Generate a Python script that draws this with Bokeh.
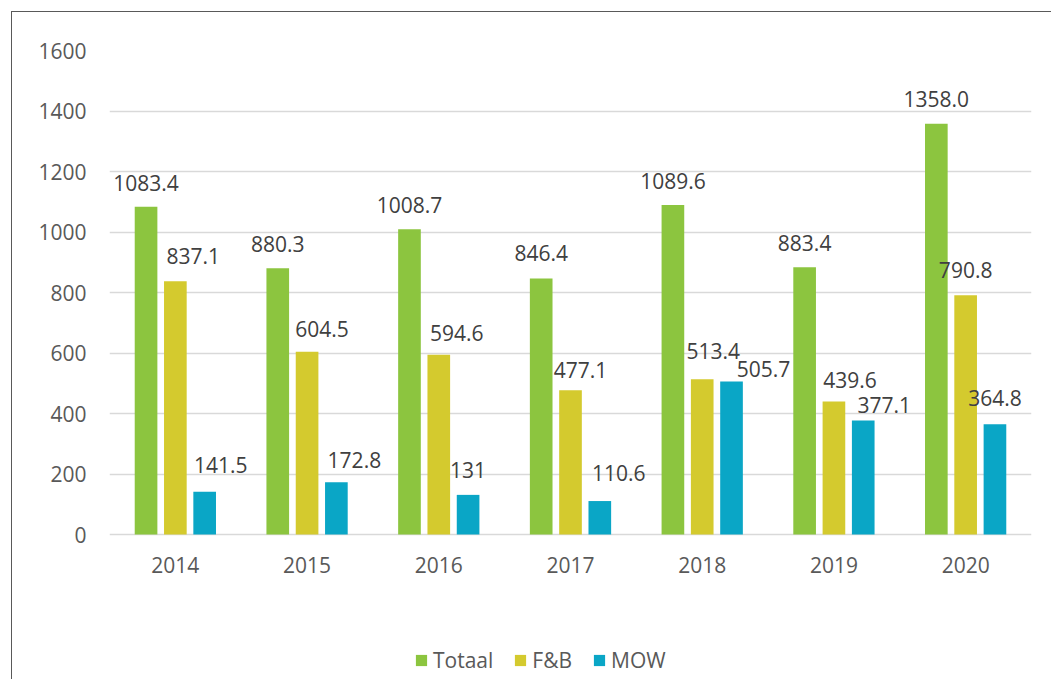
from bokeh.plotting import figure
from bokeh.models import (ColumnDataSource, FactorRange, Range1d, Legend, LegendItem)
from bokeh.transform import dodge
from bokeh.core.properties import value
from bokeh.embed import file_html
from bokeh.resources import INLINE

# ---- data ----
years = ["2014", "2015", "2016", "2017", "2018", "2019", "2020"]
totaal = [1083.4, 880.3, 1008.7, 846.4, 1089.6, 883.4, 1358.0]
fb = [837.1, 604.5, 594.6, 477.1, 513.4, 439.6, 790.8]
mow = [141.5, 172.8, 131, 110.6, 505.7, 377.1, 364.8]
totaal_labels = ["1083.4", "880.3", "1008.7", "846.4", "1089.6", "883.4", "1358.0"]
fb_labels = ["837.1", "604.5", "594.6", "477.1", "513.4", "439.6", "790.8"]
mow_labels = ["141.5", "172.8", "131", "110.6", "505.7", "377.1", "364.8"]
series_names = ["Totaal", "F&B", "MOW"]
y_ticks = [0, 200, 400, 600, 800, 1000, 1200, 1400, 1600]

# ---- styles: label nudges (screen px) ----
totaal_dx = [0, 0, 0, 0, 0, 0, 0]
totaal_dy = [24, 24, 24, 25, 24, 24, 25]
fb_dx = [18, 15, 18, 10, 11, 16, 0]
fb_dy = [25, 23, 22, 20, 28, 22, 25]
mow_dx = [16, 18, 0, 19, 32, 21, 0]
mow_dy = [27, 22, 25, 28, 13, 15, 26]

colors = ["#8CC53F", "#D4CA2E", "#0AA6C6"]
FONT = "Open Sans"
TICK_COLOR = "#595959"
LABEL_COLOR = "#404040"

src = ColumnDataSource(dict(
    year=years, totaal=totaal, fb=fb, mow=mow,
    tl=totaal_labels, fl=fb_labels, ml=mow_labels,
    tdx=totaal_dx, tdy=[-d for d in totaal_dy],
    fdx=fb_dx, fdy=[-d for d in fb_dy],
    mdx=mow_dx, mdy=[-d for d in mow_dy],
))

W, H = 1040, 668
TOP, BOTTOM_EXTRA_PX, PLOT_PX = 38, 146, 484   # frame layout in pixels
y_max = 1600
y_min = -y_max * BOTTOM_EXTRA_PX / PLOT_PX     # room below 0 for axis labels + legend

p = figure(width=W, height=H, output_backend="svg", toolbar_location=None,
           x_range=FactorRange(factors=years, range_padding=0),
           y_range=Range1d(y_min, y_max),
           min_border_left=97, min_border_right=21,
           min_border_top=TOP, min_border_bottom=0)
p.margin = (11, 0, 0, 11)
p.styles = {"border-top": "1.5px solid #595959", "border-left": "1.5px solid #595959"}
p.outline_line_color = None
p.background_fill_color = "white"
p.border_fill_color = "white"

off = 0.2225
bw = 0.172
keys = ["totaal", "fb", "mow"]
offsets = [-off, 0.0, off]
renderers = []
for k, o, c in zip(keys, offsets, colors):
    r = p.vbar(x=dodge("year", o, range=p.x_range), top=k, bottom=0, width=bw, source=src,
               fill_color=c, line_color=None)
    renderers.append(r)

for k, o, t, dx, dy in zip(keys, offsets, ["tl", "fl", "ml"], ["tdx", "fdx", "mdx"], ["tdy", "fdy", "mdy"]):
    p.text(x=dodge("year", o, range=p.x_range), y=k, text=t, source=src,
           x_offset=dx, y_offset=dy,
           text_align="center", text_baseline="middle",
           text_font=value(FONT), text_font_size="21px", text_color=LABEL_COLOR)

# axes
p.yaxis.ticker = y_ticks
p.xaxis.fixed_location = 0
for ax in (p.xaxis, p.yaxis):
    ax.axis_line_color = None
    ax.major_tick_line_color = None
    ax.minor_tick_line_color = None
    ax.major_tick_out = 0
    ax.major_tick_in = 0
    ax.major_label_text_font = FONT
    ax.major_label_text_font_size = "21px"
    ax.major_label_text_color = TICK_COLOR
p.yaxis.major_label_standoff = 23
p.xaxis.major_label_standoff = 22

p.xgrid.grid_line_color = None
p.ygrid.ticker = y_ticks
p.ygrid.grid_line_color = "#D9D9D9"
p.ygrid.grid_line_width = 1.4

legend = Legend(items=[LegendItem(label=n, renderers=[r]) for n, r in zip(series_names, renderers)],
                orientation="horizontal", location=(305, 6),
                glyph_width=14, glyph_height=14, label_standoff=5, spacing=20,
                padding=0, margin=0, border_line_color=None, background_fill_alpha=0,
                label_text_font=FONT, label_text_font_size="21px",
                label_text_color=TICK_COLOR)
p.add_layout(legend, "center")

open("out.html", "w").write(file_html(p, INLINE))
